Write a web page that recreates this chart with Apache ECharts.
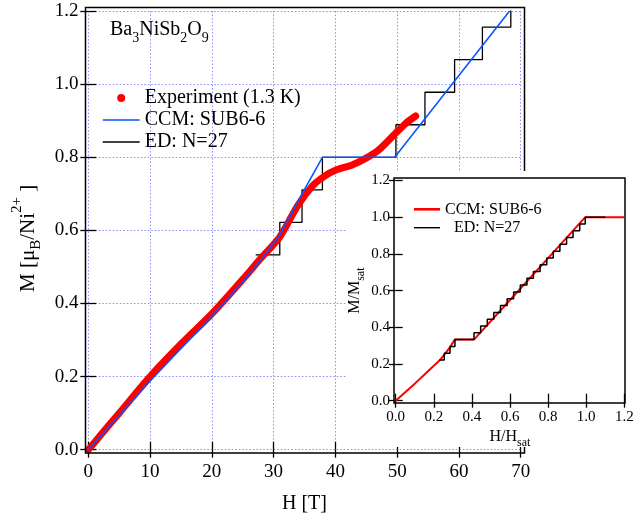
<!DOCTYPE html>
<html>
<head>
<meta charset="utf-8">
<script src="https://cdn.jsdelivr.net/npm/echarts@6/dist/echarts.min.js"></script>
<style>html,body{margin:0;padding:0;background:#fff}#c{width:642px;height:514px}</style>
</head>
<body>
<div id="c"></div>
<script>
// ---- Main panel data: M [muB/Ni2+] vs H [T] ----
const expH = [0, 2, 5, 10, 15, 20, 25, 28, 31, 33.9, 36.3, 38.2, 40.1, 42.7, 44.9, 47.0, 49.7, 51.4, 53.0];
const expM = [0, 0.04, 0.1, 0.2, 0.289, 0.372, 0.466, 0.525, 0.582, 0.668, 0.722, 0.748, 0.765, 0.779, 0.797, 0.82, 0.865, 0.893, 0.913];
const ccmH = [0, 10, 20, 25, 28, 31, 34.6, 37.9, 49.6, 68.2];
const ccmM = [0, 0.188, 0.365, 0.458, 0.52, 0.588, 0.70, 0.8, 0.8, 1.2];
const edH  = [27.1, 31.0, 34.6, 37.9, 49.8, 54.5, 59.3, 63.8, 68.4];
const edM  = [0.533, 0.622, 0.711, 0.8, 0.889, 0.978, 1.067, 1.156, 1.244];
// ---- Inset data: M/Msat vs H/Hsat ----
const inCcmH = [0, 0.05, 0.1, 0.15, 0.2, 0.2325, 0.26, 0.285, 0.31, 0.411, 0.6, 0.8, 0.995, 1.2];
const inCcmM = [0, 0.046, 0.093, 0.141, 0.19, 0.222, 0.257, 0.292, 0.333, 0.333, 0.549, 0.777, 1.0, 1.0];
const inEdH = [0.229, 0.255, 0.285, 0.311, 0.411, 0.446, 0.481, 0.515, 0.550, 0.585, 0.619, 0.654, 0.689, 0.723, 0.758, 0.793, 0.827, 0.862, 0.897, 0.931, 0.966, 0.995, 1.10];
const inEdM = [0.222, 0.259, 0.296, 0.333, 0.370, 0.407, 0.444, 0.481, 0.519, 0.556, 0.593, 0.630, 0.667, 0.704, 0.741, 0.778, 0.815, 0.852, 0.889, 0.926, 0.963, 1.000, 1.000];
// tick labels
const mainXTicks = [0, 10, 20, 30, 40, 50, 60, 70];
const mainYTicks = ['0.0', '0.2', '0.4', '0.6', '0.8', '1.0', '1.2'];
const insetTicks = ['0.0', '0.2', '0.4', '0.6', '0.8', '1.0', '1.2'];

const pairs = (a, b) => a.map((v, i) => [v, b[i]]);
const FF = 'Liberation Serif';

const chart = echarts.init(document.getElementById('c'), null, {renderer: 'canvas'});
const tickStyle = {lineStyle: {color: '#000', width: 1.3}};
const option = {
  animation: false,
  backgroundColor: '#fff',
  title: {
    text: 'Ba{s|3}NiSb{s|2}O{s|9}',
    left: 110, top: 20, padding: 0,
    textStyle: {fontFamily: FF, fontSize: 20, fontWeight: 'normal', color: '#000',
      rich: {s: {fontFamily: FF, fontSize: 14, color: '#000', verticalAlign: 'bottom', padding: [0, 0, -5, 0]}}}
  },
  legend: [
    {
      orient: 'vertical', left: 102.7, top: 88, padding: 0, itemWidth: 37, itemHeight: 8, itemGap: 2,
      selectedMode: false,
      textStyle: {fontFamily: FF, fontSize: 20, color: '#000', lineHeight: 20},
      data: [
        {name: 'Experiment (1.3 K)', icon: 'circle'},
        {name: 'CCM: SUB6-6', icon: 'path://M0,0H37V1.6H0Z'},
        {name: 'ED: N=27', icon: 'path://M0,0H37V1.3H0Z'}
      ]
    },
    {
      orient: 'vertical', left: 414, top: 201.3, padding: 0, itemWidth: 26, itemHeight: 4, itemGap: 2.4,
      selectedMode: false, z: 12,
      textStyle: {fontFamily: FF, fontSize: 16, color: '#000', lineHeight: 16,
        rich: {e: {fontFamily: FF, fontSize: 16, color: '#000', padding: [0, 0, 0, 9]}}},
      formatter: n => n.indexOf('ED') === 0 ? '{e|ED: N=27}' : 'CCM: SUB6-6',
      data: [
        {name: 'CCM: SUB6-6 (inset)', icon: 'path://M0,0H20V2H0Z'},
        {name: 'ED: N=27 (inset)', icon: 'path://M0,0H28V1.5H0Z'}
      ]
    }
  ],
  grid: [
    {left: 88.3, right: 121.3, top: 11.1, bottom: 64.3, outerBoundsMode: 'none', containLabel: false},
    {left: 395.7, right: 17.7, top: 180.5, bottom: 113.3, outerBoundsMode: 'none', containLabel: false}
  ],
  xAxis: [
    {gridIndex: 0, type: 'value', min: 0, max: 70, interval: 10, position: 'bottom', offset: 3.3,
      axisLine: {show: false}, axisTick: Object.assign({inside: true, length: 8}, tickStyle),
      axisLabel: {fontFamily: FF, fontSize: 19, color: '#000', margin: 10, formatter: v => String(mainXTicks[Math.round(v / 10)])},
      splitLine: {show: true, lineStyle: {color: '#8c8cff', type: [1.5, 2], width: 1}},
      name: 'H [T]', nameLocation: 'middle', nameGap: 41,
      nameTextStyle: {fontFamily: FF, fontSize: 20, color: '#000'}},
    {gridIndex: 0, type: 'value', min: 0, max: 70, interval: 10, position: 'top', offset: 3.6,
      axisLine: {show: false}, axisTick: Object.assign({inside: true, length: 8}, tickStyle),
      axisLabel: {show: false}, splitLine: {show: false}},
    {gridIndex: 1, type: 'value', min: 0, max: 1.2, interval: 0.2, position: 'bottom', offset: 2.3, z: 10,
      axisLine: {show: false}, axisTick: Object.assign({inside: true, length: 7}, tickStyle),
      axisLabel: {fontFamily: FF, fontSize: 15, color: '#000', margin: 7, formatter: v => insetTicks[Math.round(v / 0.2)]},
      splitLine: {show: false},
      name: 'H/H{s|sat}', nameLocation: 'middle', nameGap: 26,
      nameTextStyle: {fontFamily: FF, fontSize: 16, color: '#000',
        rich: {s: {fontFamily: FF, fontSize: 12, color: '#000', verticalAlign: 'bottom', padding: [0, 0, -4, 0]}}}},
    {gridIndex: 1, type: 'value', min: 0, max: 1.2, interval: 0.2, position: 'top', offset: 2.5, z: 10,
      axisLine: {show: false}, axisTick: Object.assign({inside: true, length: 7}, tickStyle),
      axisLabel: {show: false}, splitLine: {show: false}}
  ],
  yAxis: [
    {gridIndex: 0, type: 'value', min: 0, max: 1.2, interval: 0.2, position: 'left', offset: 2.8,
      axisLine: {show: false}, axisTick: Object.assign({inside: true, length: 8}, tickStyle),
      axisLabel: {fontFamily: FF, fontSize: 19, color: '#000', margin: 7, formatter: v => mainYTicks[Math.round(v / 0.2)]},
      splitLine: {show: true, lineStyle: {color: '#8c8cff', type: [1.5, 2], width: 1}},
      name: 'M [μ{b|B}/Ni{p|2+} ]', nameLocation: 'middle', nameGap: 39, nameRotate: 90,
      nameTextStyle: {fontFamily: FF, fontSize: 21, color: '#000', padding: [0, 16, 0, 0],
        rich: {b: {fontFamily: FF, fontSize: 15, color: '#000', verticalAlign: 'bottom', padding: [0, 0, -5, 0]},
               p: {fontFamily: FF, fontSize: 15, color: '#000', verticalAlign: 'top', padding: [-8, 0, 0, 0]}}}},
    {gridIndex: 0, type: 'value', min: 0, max: 1.2, interval: 0.2, position: 'right', offset: 3.8,
      axisLine: {show: false}, axisTick: Object.assign({inside: true, length: 8}, tickStyle),
      axisLabel: {show: false}, splitLine: {show: false}},
    {gridIndex: 1, type: 'value', min: 0, max: 1.2, interval: 0.2, position: 'left', offset: 1.7, z: 10,
      axisLine: {show: false}, axisTick: Object.assign({inside: true, length: 7}, tickStyle),
      axisLabel: {fontFamily: FF, fontSize: 15, color: '#000', margin: 4, formatter: v => insetTicks[Math.round(v / 0.2)]},
      splitLine: {show: false},
      name: 'M/M{s|sat}', nameLocation: 'middle', nameGap: 31, nameRotate: 90,
      nameTextStyle: {fontFamily: FF, fontSize: 16, color: '#000',
        rich: {s: {fontFamily: FF, fontSize: 12, color: '#000', verticalAlign: 'bottom', padding: [0, 0, -4, 0]}}}},
    {gridIndex: 1, type: 'value', min: 0, max: 1.2, interval: 0.2, position: 'right', offset: 0.7, z: 10,
      axisLine: {show: false}, axisTick: Object.assign({inside: true, length: 7}, tickStyle),
      axisLabel: {show: false}, splitLine: {show: false}}
  ],
  graphic: [
    {type: 'rect', z: 5, silent: true, shape: {x: 85.5, y: 7.5, width: 439, height: 445.5},
      style: {fill: 'none', stroke: '#000', lineWidth: 1.5}},
    {type: 'rect', z: 7, silent: true, shape: {x: 346.5, y: 171, width: 294, height: 276},
      style: {fill: '#fff', stroke: 'none'}},
    {type: 'rect', z: 9, silent: true, shape: {x: 394, y: 178, width: 231, height: 225},
      style: {fill: 'none', stroke: '#000', lineWidth: 1.5}}
  ],
  series: [
    {name: 'ED: N=27', type: 'line', xAxisIndex: 0, yAxisIndex: 0, data: pairs(edH, edM), step: 'end',
      symbol: 'none', z: 2, lineStyle: {color: '#000', width: 1.3}, itemStyle: {color: '#000'}},
    {name: 'Experiment (1.3 K)', type: 'line', xAxisIndex: 0, yAxisIndex: 0, data: pairs(expH, expM), smooth: 0.3,
      symbol: 'none', z: 3, lineStyle: {color: '#ff0000', width: 7, cap: 'round', join: 'round'}, itemStyle: {color: '#ff0000'}},
    {name: 'CCM: SUB6-6', type: 'line', xAxisIndex: 0, yAxisIndex: 0, data: pairs(ccmH, ccmM),
      symbol: 'none', z: 4, lineStyle: {color: '#0a55ff', width: 1.6}, itemStyle: {color: '#0a55ff'}},
    {name: 'CCM: SUB6-6 (inset)', type: 'line', xAxisIndex: 2, yAxisIndex: 2, data: pairs(inCcmH, inCcmM),
      symbol: 'none', z: 11, lineStyle: {color: '#ff0000', width: 2}, itemStyle: {color: '#ff0000'}},
    {name: 'ED: N=27 (inset)', type: 'line', xAxisIndex: 2, yAxisIndex: 2, data: pairs(inEdH, inEdM), step: 'end',
      symbol: 'none', z: 12, lineStyle: {color: '#000', width: 1.5}, itemStyle: {color: '#000'}}
  ]
};
chart.setOption(option);
</script>
</body>
</html>
